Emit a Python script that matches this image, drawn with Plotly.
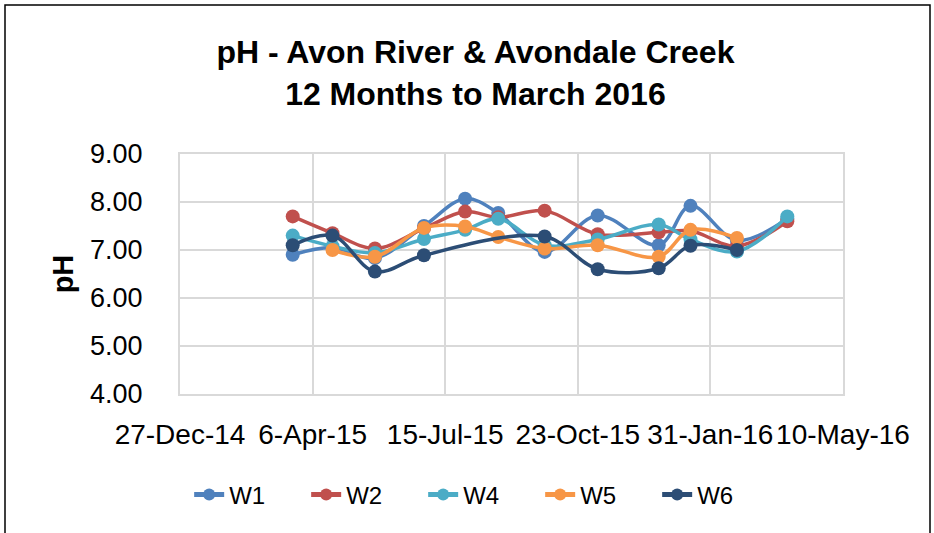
import plotly.graph_objects as go

dates = ["2015-03-22", "2015-04-21", "2015-05-23", "2015-06-29", "2015-07-30", "2015-08-24",
         "2015-09-28", "2015-11-07", "2015-12-23", "2016-01-16", "2016-02-20", "2016-03-29"]

w1 = [6.90, 7.05, 6.83, 7.50, 8.07, 7.77, 6.96, 7.72, 7.10, 7.92, 7.20, 7.65]
w2 = [7.70, 7.35, 7.03, 7.45, 7.80, 7.68, 7.82, 7.33, 7.37, 7.40, 7.08, 7.60]
w4 = [7.30, 7.08, 6.94, 7.23, 7.42, 7.65, 7.10, 7.22, 7.53, 7.22, 6.97, 7.70]
w5 = [None, 7.00, 6.86, 7.46, 7.49, 7.27, 7.03, 7.10, 6.86, 7.42, 7.25, None]
w6 = [7.10, 7.30, 6.55, 6.89, None, None, 7.28, 6.60, 6.62, 7.09, 7.00, None]

series_names = ["W1", "W2", "W4", "W5", "W6"]
series_values = [w1, w2, w4, w5, w6]
colors = ["#4F81BD", "#C0504D", "#4BACC6", "#F79646", "#2C4D75"]

x_tick_vals = ["2014-12-27", "2015-04-06", "2015-07-15", "2015-10-23", "2016-01-31", "2016-05-10"]
x_tick_text = ["27-Dec-14", "6-Apr-15", "15-Jul-15", "23-Oct-15", "31-Jan-16", "10-May-16"]
y_tick_vals = [4, 5, 6, 7, 8, 9]
y_tick_text = ["4.00", "5.00", "6.00", "7.00", "8.00", "9.00"]

FONT = "Liberation Sans"

fig = go.Figure()
for name, vals, col in zip(series_names, series_values, colors):
    fig.add_trace(go.Scatter(
        x=dates, y=vals, name=name, mode="lines+markers",
        connectgaps=True,
        line=dict(color=col, width=3.5, shape="spline", smoothing=1),
        marker=dict(color=col, size=14),
    ))

grid = "#D9D9D9"
fig.update_layout(
    width=934, height=533,
    paper_bgcolor="white", plot_bgcolor="white",
    margin=dict(l=180, r=91, t=154, b=139, autoexpand=False),
    font=dict(family=FONT, color="black"),
    title=dict(
        text="<b>pH - Avon River & Avondale Creek<br>12 Months to March 2016</b>",
        x=0.509, xanchor="center", y=0.881, yanchor="top", yref="container",
        font=dict(family=FONT, size=32, color="black"),
    ),
    showlegend=True,
    legend=dict(
        orientation="h", x=0.455, xanchor="center", y=-0.42, yanchor="middle",
        font=dict(family=FONT, size=24, color="black"),
        entrywidth=72, entrywidthmode="pixels",
        itemsizing="constant",
    ),
    xaxis=dict(
        type="date", automargin=False,
        range=["2014-12-27", "2016-05-10"],
        tickmode="array", tickvals=x_tick_vals, ticktext=x_tick_text,
        tickangle=0,
        showgrid=True, gridcolor=grid, gridwidth=2,
        showline=True, linecolor=grid, linewidth=2, mirror=True,
        ticks="", ticklabelstandoff=14,
        tickfont=dict(family=FONT, size=28, color="black"),
        zeroline=False,
    ),
    yaxis=dict(
        range=[4, 9], automargin=False,
        tickmode="array", tickvals=y_tick_vals, ticktext=y_tick_text,
        showgrid=True, gridcolor=grid, gridwidth=2,
        showline=True, linecolor=grid, linewidth=2, mirror=True,
        ticks="", ticklabelstandoff=30,
        tickfont=dict(family=FONT, size=27, color="black"),
        zeroline=False,
        title=dict(text="<b>pH</b>", font=dict(family=FONT, size=29, color="black"), standoff=8),
    ),
    shapes=[dict(
        type="rect", xref="paper", yref="paper",
        x0=(5 - 180) / 663, x1=(930 - 180) / 663,
        y0=(394 - 560) / 240, y1=(394 - 5) / 240,
        line=dict(color="black", width=1.5), fillcolor="rgba(0,0,0,0)", layer="below",
    )],
)

fig.write_html("out.html", config={"displayModeBar": False},
               post_script="document.body.style.margin='0';")
